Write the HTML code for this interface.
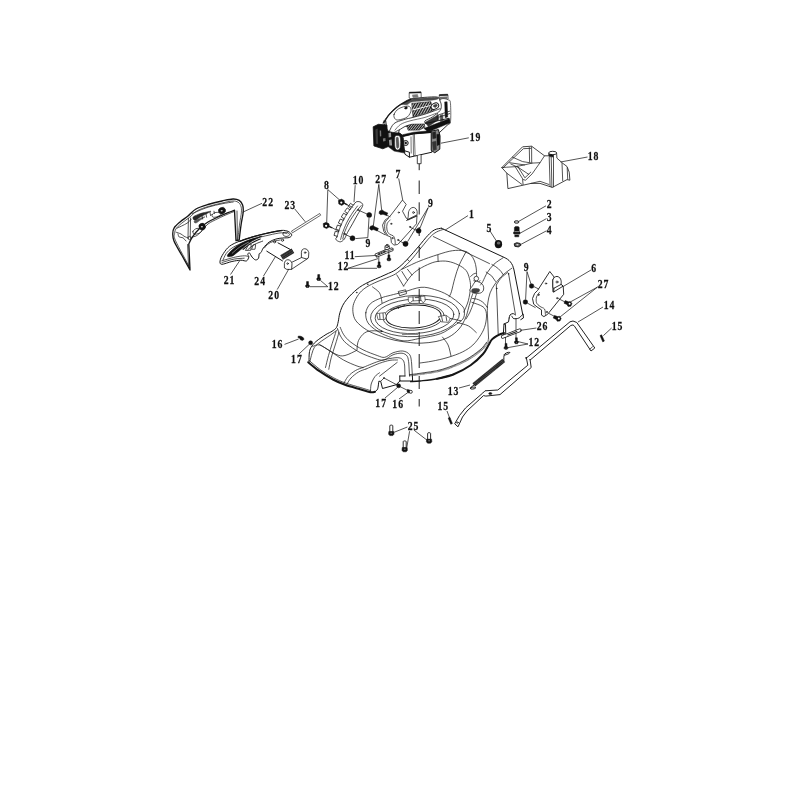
<!DOCTYPE html>
<html><head><meta charset="utf-8"><title>Parts diagram</title>
<style>
html,body{margin:0;padding:0;background:#fff;}
body{width:800px;height:800px;overflow:hidden;font-family:"Liberation Serif",serif;}
svg{display:block;filter:blur(0.4px);}
.l{fill:none;stroke:#161616;stroke-width:1;stroke-linecap:round;stroke-linejoin:round;}
.t{fill:none;stroke:#1c1c1c;stroke-width:0.75;stroke-linecap:round;stroke-linejoin:round;}
.k{fill:#111;stroke:#111;stroke-width:0.5;}
.w{fill:#fff;stroke:#161616;stroke-width:0.9;stroke-linejoin:round;}
.ld{fill:none;stroke:#1c1c1c;stroke-width:0.75;}
text{font-family:"Liberation Serif",serif;font-weight:bold;font-size:13px;fill:#111;stroke:#111;stroke-width:.25px;}
</style></head><body>
<svg width="800" height="800" viewBox="0 0 800 800">
<rect width="800" height="800" fill="#fff"/>
<!-- 10_deck.svg -->
<g id="deck">
<path class="l" d="M309 361C309.1 359.7 309 355.2 309.3 353C309.6 350.8 309.9 349.4 311 347.5C312.1 345.6 313.5 343.7 316 341.5C318.5 339.3 323.3 336.2 326 334.5C328.7 332.8 330.2 332.5 332 331.3C333.8 330.1 335.5 329 336.5 327.4C337.5 325.8 337.6 324.2 338.2 321.8C338.8 319.4 338.9 316 339.9 312.8C340.9 309.6 342 306.2 344.4 302.6C346.8 299 350.9 294.6 354.5 291.4C358.1 288.2 360.7 286.2 365.8 283.5C370.9 280.8 379.9 277.3 385 274.9C390.1 272.5 392.6 271.9 396.3 269.3C400.1 266.7 403.8 263 407.5 259.1C411.2 255.3 415.4 250.1 418.8 246.2C422.2 242.3 425.2 238.2 427.8 235.5C430.4 232.8 432.2 231.1 434.5 229.9C436.8 228.7 440.2 228.5 441.3 228.2"/>
<path class="l" d="M441.3 228.2L504.1 257.4C509 259.5 512.6 263 514 270L522.7 314.3"/>
<path class="l" d="M443.5 229.3C442.3 229.8 438.8 230.7 436.5 232C434.2 233.3 432.6 234.5 430 237.2C427.4 239.8 424.4 243.9 421 247.9C417.6 251.9 413.7 257.3 409.8 261.4C405.9 265.5 400.8 270 397.4 272.6C394 275.2 392.8 275.3 389.4 276.8C386 278.3 380.8 280.1 377 281.8C373.2 283.5 369.7 285.1 366.9 286.9C364.1 288.7 362.2 290.1 360.1 292.5C358 294.9 355.7 298.7 354.5 301.5C353.3 304.3 352.8 306.6 352.8 309.4C352.8 312.2 353.3 315.8 354.5 318.4C355.7 321 357.7 323 360.1 325.1C362.5 327.2 365.5 329.4 369.1 331.3C372.7 333.2 377.2 334.9 381.5 336.4C385.8 337.9 390.1 339.3 395 340.3C399.9 341.3 406.3 342.1 410.8 342.6C415.3 343.1 417.8 343.3 422 343.1C426.2 342.9 431.5 342.5 436 341.5C440.5 340.5 445.2 339.1 449 337C452.8 334.9 456.2 332.2 459 329C461.8 325.8 463.9 321.5 465.5 318C467.1 314.5 467.6 311.2 468.5 308C469.4 304.8 470.3 301.4 471 299C471.7 296.6 472.5 294.5 472.8 293.6" style="stroke-width:.75"/>
<path class="t" d="M433.4 236.6L489.5 263.6"/>
<path class="t" d="M401.9 269.3C404.7 268 412.8 263.8 418.8 261.4C424.8 258.9 432.3 256.4 437.9 254.6C443.5 252.8 448.2 251.3 452.5 250.7C456.8 250.1 460.8 250.2 463.8 250.9C466.8 251.6 468.7 252.9 470.5 254.6C472.3 256.3 473.6 258.8 474.5 261C475.4 263.2 475.8 265.6 476.2 268.1C476.6 270.6 476.5 274.7 476.6 276"/>
<path class="t" d="M403.6 286.1C404.8 284.4 408.4 278.8 410.9 276C413.4 273.2 415.6 271.4 418.8 269.3C422 267.2 426.8 264.9 430 263.6C433.2 262.3 434.9 261.8 437.9 261.4C440.9 261 444.6 260.8 448 261.4C451.4 262 455.1 263.3 458.1 264.8C461.1 266.3 464.1 268.1 466 270.4C467.9 272.6 468.6 275.5 469.4 278.3C470.1 281.1 470.7 283.6 470.5 287.3C470.3 291.1 469.4 296.7 468.3 300.8C467.2 304.9 464.6 310.1 463.8 312"/>
<path class="t" d="M396.8 274.9L403.6 286.1M401.9 271.5L407.5 280.5M407.5 269.3L412 274.9M437.9 255.2L438.1 261.4M418.4 246.8L420.6 248.4M407.3 259.4L409.4 261.2"/>
<path class="t" d="M398.6 291.4L405.6 289.8L406.6 293.6L400 295.6Z"/>
<path class="t" d="M466 251.8C464.9 254 461.2 260.4 459.3 264.8C457.4 269.2 456.1 273.8 454.8 278.3C453.5 282.8 452.3 288.7 451.4 291.8C450.4 294.9 449.5 296 449.1 296.8"/>
<path class="t" d="M372.5 286.9C373.6 287.8 377.8 290.4 379.3 292.5C380.8 294.6 381.1 297.6 381.5 299.3C381.9 301.1 381.9 302.4 382 303"/>
<circle class="k" cx="356.8" cy="292.6" r=".5"/>
<circle class="k" cx="367.8" cy="284.2" r=".5"/>
<circle class="k" cx="381.5" cy="331.3" r=".5"/>
<ellipse class="l" cx="413.5" cy="316.5" rx="27.6" ry="11.5" transform="rotate(-3 413.5 316.5)"/>
<ellipse class="t" cx="414.5" cy="316.3" rx="39.4" ry="17.2" transform="rotate(-3 414.5 316.3)"/>
<ellipse class="t" cx="415" cy="316" rx="44.5" ry="20.6" transform="rotate(-3 415 316)"/>
<path class="t" d="M365.8 312.8C366.2 309.6 367.8 306.3 370.3 303.8C372.8 301.3 377.6 299.4 381 298C384.4 296.6 386.7 296.3 390.5 295.3C394.3 294.3 398.9 293.2 404 291.9C409.1 290.6 415.9 287.7 421 287.3C426.1 286.9 430 288.2 434.5 289.5C439 290.8 443.5 292.5 448 295.1C452.5 297.7 458.8 302.6 461.5 305.3C464.2 308 464.2 309 464.4 311.3C464.6 313.6 464.6 316.7 462.8 319.1C461 321.5 457.6 323.4 453.8 325.9C450.1 328.3 445.9 331.7 440.3 333.8C434.7 335.9 426.1 337.1 420 338.3C413.9 339.5 409.3 341.2 404 340.9C398.7 340.6 392.8 338.1 388.3 336.4C383.8 334.7 380.4 333.1 377 330.8C373.6 328.6 369.9 325.9 368 322.9C366.1 319.9 365.4 316 365.8 312.8Z"/>
<ellipse class="t" cx="413.6" cy="316.8" rx="30.5" ry="13.4" transform="rotate(-3 413.6 316.8)"/>
<path class="w" d="M408.2 297.2L424.8 296.2L425.2 301L423 302.8L421.4 300.4L412 301L410.2 303.2L408.4 301.4Z" style="stroke-width:.6"/>
<path class="t" d="M413 297L413.2 300.6M420.6 296.6L420.8 300.2M415.4 297.6h3.2"/>
<path class="w" d="M376.6 313.6L385.2 312.6L386.4 316L385 319.4L378 319.6Z" style="stroke-width:.6"/>
<path class="t" d="M379.6 314L380 319M383 313.4l.4 5"/>
<path class="w" d="M438.4 316.6L446 315.2L450.2 318.4L448.4 322.4L441 321.8Z" style="stroke-width:.6"/>
<path class="t" d="M441.6 316.6l1 4.6M446 316l.8 5M450.2 318.4L461 320.8"/>
<path class="t" d="M390.6 309.6L404.6 305.6M398 306.4l.6 2.2"/>
<path class="" d="M402 334.2L418 334.4" stroke="#888" stroke-width="1.4" fill="none"/>
<circle class="w" cx="476.3" cy="278.6" r="2.3" style="stroke-width:.75"/>
<path class="w" d="M475.6 281.5C476.9 281 478.7 281.8 480 282.5C481.3 283.2 482.7 284.4 483.2 285.6C483.8 286.9 483.9 288.8 483.5 290C483.1 291.2 482.1 292.3 480.8 292.9C479.4 293.4 476.8 293.5 475.1 293.2C473.5 293 471.6 292 470.8 291.4C469.9 290.8 469.7 290.4 470 289.5C470.3 288.6 471.6 287.1 472.5 285.8C473.4 284.4 474.4 282 475.6 281.5Z" style="stroke-width:.75"/>
<path class="k" d="M471.9 289.5C472.3 288.9 473.8 288.6 475 288.5C476.2 288.4 478.4 288.6 479.1 289.1C479.8 289.6 479.8 290.8 479.2 291.4C478.7 292 476.8 292.8 475.6 292.9C474.4 293 472.8 292.4 472.2 291.9C471.6 291.3 471.4 290.1 471.9 289.5Z" style="opacity:.8"/>
<path class="t" d="M475.6 281.5L473.8 280.8M478.8 281.9L480 280.5"/>
<path class="t" d="M470.6 276.5C471.1 276.1 472.6 274.5 473.5 274C474.4 273.5 475.5 273.4 475.9 273.2"/>
<path class="t" d="M476.4 294C475.9 295.5 474.6 300 473.5 303C472.4 306 471.2 309.3 470 312C468.8 314.7 466.7 317.8 466 319"/>
<path class="t" d="M503 257.8C501.5 258.9 496.6 261.7 494 264.2C491.4 266.7 489.2 269.7 487.3 272.6C485.4 275.5 483.9 279.5 482.8 281.6C481.7 283.7 480.9 284.4 480.5 285"/>
<path class="t" d="M512 268.1C510.5 269.2 505.8 272.3 503 274.9C500.2 277.5 497.2 280.9 495.1 283.9C493 286.9 491.3 289.7 490.1 292.9C488.9 296.1 488.3 299.8 487.8 303C487.3 306.2 487.4 310.5 487.3 312L488.6 339"/>
<path class="t" d="M507.5 272.6C506.4 273.6 502.7 276.2 500.8 278.3C498.9 280.4 497.1 283.9 496.3 285L497 300L498.2 334"/>
<path class="t" d="M508.6 273.8L515.4 314.3"/>
<path class="t" d="M491.9 264.5Q499.5 268 503.1 274.5M486.2 272Q492.5 275 495.6 281.4M472.6 298.5C478 298.6 483.5 301 487.3 307.5"/>
<circle class="k" cx="496.8" cy="288.4" r=".5"/>
<circle class="k" cx="508.6" cy="273.8" r=".5"/>
<path class="t" d="M471.8 302.3C473.7 303.1 480.6 304.9 483 306.8C485.4 308.7 486 310.5 486.4 313.5C486.8 316.5 486.2 321.2 485.3 324.8C484.4 328.4 482.9 331.5 480.8 334.9C478.7 338.3 475.9 342.2 472.9 345C469.9 347.8 466.9 349.7 462.8 351.8C458.7 353.9 453.1 355.8 448 357.4C442.9 359 436.7 360.3 432 361.2C427.3 362.1 422 362.7 420 363"/>
<path class="t" d="M457.1 322.5C459 323.1 465.2 324.2 468.4 325.9C471.6 327.6 475 331.5 476.3 332.6"/>
<path class="t" d="M442.5 337.1C443.4 338.4 446.7 341.9 448.1 345C449.5 348.1 450.5 354.2 451 356"/>
<path class="" d="M409.5 375.6C411.2 375.4 414.5 375.2 420 374.3C425.5 373.4 435 372.5 442.5 370.3C450 368.1 458.6 364.6 465 361.3C471.4 358 477.1 353.7 480.8 350.6C484.6 347.5 486.2 344.7 487.5 342.8C488.8 340.9 488.4 339.6 488.6 339" stroke="#555" stroke-width="1.7" fill="none" stroke-dasharray=".7 .45"/>
<path class="t" d="M409.5 374.6C411.2 374.4 414.5 374.2 420 373.3C425.5 372.4 434.9 371.5 442.3 369.3C449.7 367.1 458.2 363.6 464.5 360.4C470.8 357.2 476.3 352.9 480 349.9C483.7 346.9 485.5 343.5 486.6 342.2"/>
<path class="l" d="M410.6 381.6C412.2 381.5 415.6 381.5 420 381C424.4 380.5 431.3 379.9 436.9 378.8C442.5 377.7 451 375.1 453.8 374.3" style="stroke-width:1.4"/>
<path class="l" d="M436.9 378.8C439.7 378.1 448.2 376.6 453.8 374.3C459.4 372.1 465.7 368.7 470.6 365.3C475.5 361.9 480 357.4 483 354C486 350.6 487.1 347.4 488.6 345C490.1 342.6 490.3 341.1 492 339.4C493.7 337.7 496.8 336 498.8 334.9C500.8 333.8 503.1 333.3 504 333" style="stroke-width:2"/>
<path class="t" d="M337.5 328.5C338 329.8 339 333.5 340.5 336C342 338.5 343.2 340.8 346.5 343.5C349.8 346.2 355.2 350 360 352.5C364.8 355 371 357.2 375 358.5C379 359.8 381 360.6 384 360C387 359.4 390 355.9 393 354.8C396 353.6 399.6 353 402 353.2C404.4 353.5 406.1 354.6 407.2 356.2C408.4 357.9 408.5 361.9 408.8 363L409.5 376"/>
<path class="t" d="M340.2 327.3C340.8 328.6 342.1 332.4 343.8 334.8C345.5 337.2 347.1 339.2 350.2 341.7C353.4 344.2 358.5 347.5 363 349.8C367.5 352.1 373.6 354.2 377.2 355.5C380.9 356.8 382.1 357.8 384.8 357.3C387.4 356.9 390 353.9 393 352.8C396 351.8 399.9 350.7 402.8 351C405.6 351.3 408.3 352.8 409.8 354.8C411.3 356.8 411.3 361.6 411.6 363L412.4 376"/>
<path class="t" d="M363 367.5C365.5 366.5 373.5 363 378 361.5C382.5 360 386.5 359.1 390 358.5C393.5 357.9 396.8 357.4 399 357.8C401.2 358.1 402.6 359.4 403.5 360.8C404.4 362.1 404.5 365.1 404.7 366L405 376"/>
<path class="t" d="M366 369C368.2 368.1 375.5 364.8 379.5 363.3C383.5 361.9 387 360.9 390 360.3C393 359.8 396.2 360.1 397.5 360"/>
<path class="l" d="M399.8 376L399.8 381L412.6 381L412.4 376M399.8 376L405 376"/>
<path class="t" d="M379.5 376.2L397.2 362.4M381 381L384 378"/>
<path class="l" d="M308.2 362.2C310.1 363.8 315.4 368.4 319.5 371.2C323.6 374.1 328.8 377.2 333 379.5C337.2 381.8 340.5 383.1 345 384.8C349.5 386.4 355.8 388 360 389.2C364.2 390.5 368 391.8 370.5 392.2C373 392.7 374.2 391.9 375 391.8" style="stroke-width:2"/>
<path class="t" d="M309.3 360.6C311.1 362.1 316.2 366.7 320.2 369.6C324.3 372.5 329.5 375.6 333.8 377.9C338 380.1 341.2 381.5 345.8 383.1C350.2 384.7 356.6 386.4 360.8 387.6C364.9 388.9 368.9 390.1 370.5 390.6"/>
<path class="l" d="M375 391.8C375.4 391.3 377.1 390.6 377.7 388.8C378.3 387.1 378.6 382.6 378.8 381.3L380.7 381.3L382.5 388.5L396 384.8L400.2 380.7"/>
<path class="t" d="M337.5 329.7C336.4 330.6 333.8 332.6 330.8 334.8C327.7 337 321.9 340.6 319.2 342.8C316.4 344.9 315.4 345.9 314.2 347.7C313.1 349.5 312.7 351.1 312 353.4C311.3 355.7 310.2 360.1 309.9 361.5"/>
<path class="t" d="M312.8 346.5C313.9 346.2 316.6 344.2 319.5 345C322.4 345.8 326 348.5 330 351C334 353.5 339 357.5 343.5 360C348 362.5 353.8 364.8 357 366C360.2 367.2 362 367.2 363 367.5"/>
<path class="t" d="M336 331.5C335.4 333.5 333.5 339.5 332.2 343.5C331 347.5 329.6 351.5 328.5 355.5C327.4 359.5 326 365.5 325.5 367.5"/>
<path class="t" d="M339 332.2C338.4 334.4 336.6 340.8 335.2 345C333.9 349.2 332.3 353.7 331.2 357.8C330.1 361.8 329.2 367.4 328.8 369.3"/>
<path class="t" d="M343.5 384C344.2 382.8 346 378.8 348 376.5C350 374.2 353 372 355.5 370.5C358 369 361.8 368 363 367.5"/>
<path class="t" d="M346.5 384.9C347.2 383.8 349 380.1 351 378C353 375.9 356 373.5 358.5 372C361 370.5 364.8 369.5 366 369"/>
<path class="t" d="M370.5 392.2C370.6 390.9 370.5 386.6 371.2 384C372 381.4 373.6 378.4 375 376.5C376.4 374.6 378.8 373.4 379.5 372.8"/>
<path class="t" d="M319.5 344.4C322.2 346 331.8 352.4 336 354.3C340.2 356.2 341.5 356.2 345 355.5C348.5 354.8 355 351.1 357 350.2"/>
<path class="t" d="M357 349.5C357.2 348 357.2 343.2 358.5 340.5C359.8 337.8 362.2 334.6 364.5 333C366.8 331.4 369 331 372 330.8C375 330.5 380.8 331.4 382.5 331.5"/>
<circle class="k" cx="384" cy="378" r=".5"/>
<path class="t" d="M384 378L397.5 385.2M400.2 386.7L408 390.6"/>
<path id="axis" d="M419.2 163.3V170.2M419.2 180.5V194M419.2 202.3V214.5M419.2 227V236M419.2 246.5V258M419.2 267.5V281M419.2 289V303M419.2 311V324M419.2 332V346M419.2 354V368M419.2 376V389M419.2 399V406.5" stroke="#1c1c1c" stroke-width="1" fill="none"/>
</g>

<!-- 20_engine.svg -->
<g id="engine">
<defs><pattern id="hat" width="1.55" height="4" patternUnits="userSpaceOnUse" patternTransform="rotate(-20)"><rect width="1.55" height="4" fill="#fff"/><rect width="1.0" height="4" fill="#111"/></pattern><pattern id="hat2" width="1.5" height="4" patternUnits="userSpaceOnUse" patternTransform="rotate(-30)"><rect width="1.5" height="4" fill="#eee"/><rect width=".95" height="4" fill="#111"/></pattern></defs>
<path class="w" d="M409.2 92.8L409.2 98L410.9 99.1L419.8 98.6L421.2 97.4L421.1 92.4Z" style="stroke-width:.65"/>
<path class="k" d="M409.4 92.2L420.9 91.8L420.9 92.8L409.4 93.1Z"/>
<path class="k" d="M412.3 94.9L417.5 94.4L418.2 97.1L413 97.6Z" style="opacity:.55"/>
<path class="w" d="M439.2 95.4L439.2 99.3L440.9 100.2L446.6 100.1L448.1 99.1L447.9 95Z" style="stroke-width:.65"/>
<path class="k" d="M439.4 94.6L447.7 94.2L447.7 95.2L439.4 95.6Z"/>
<path class="k" d="M440 97.1L447.1 96.7L447.1 98.8L440 99.1Z" style="opacity:.6"/>
<path class="w" d="M440 100.1C441.9 97.2 446.7 99.2 448.4 99.9C450.2 100.5 450.2 100.2 450.5 103.8C450.8 107.4 451 118.3 450.5 121.6C450 125 449.2 123.7 447.5 124C445.8 124.3 441.7 124.7 440 123.5C438.3 122.3 437.2 120.8 437.2 116.9C437.2 113 438.1 102.9 440 100.1Z" style="stroke-width:.65"/>
<path class="k" d="M444.7 101.9L447.1 101.8L447.7 116.9L445.2 117.7Z"/>
<path class="w" d="M399.8 127.2L429 122.8L449.2 118.2L449.8 122.8L439.1 132.9L432.4 135.7L403.1 135.7L398.6 132.9Z"/>
<path class="w" d="M383.8 122.8C383.1 120.2 385.6 119.3 386.6 117.9C387.5 116.4 387.7 116 389.4 114.1C391.1 112.3 394.4 108.8 396.9 106.8C399.4 104.8 402 103.2 404.4 101.9C406.7 100.6 407.7 99.7 410.9 98.9C414.2 98.2 419.7 97.8 424.1 97.4C428.5 97.1 434.7 96.5 437.4 97.1C440 97.7 439.3 99.6 440 101C440.7 102.4 441.3 103.6 441.3 105.2C441.3 106.8 441.5 108.6 440 110.6C438.5 112.5 435 115.2 432.5 116.9C430 118.7 426.4 119.6 425 120.9C423.6 122.1 426.9 123.7 424.1 124.4C421.2 125.2 412.3 124.4 408.1 125.4C403.9 126.3 401.7 128.8 398.8 130.1C395.8 131.3 392.8 134.1 390.3 132.9C387.8 131.7 384.4 125.2 383.8 122.8Z" style="stroke-width:.8"/>
<path class="k" d="M402 104C402.5 103.2 406.3 100.7 410 99.7C413.7 98.7 419.6 98.4 424.1 98C428.5 97.6 434.5 97.3 436.8 97.4C439.1 97.6 438.7 98.5 437.8 98.9C436.8 99.4 435.2 99.8 431.1 100.2C426.9 100.7 416.8 101.1 412.8 101.8C408.9 102.4 409.2 104 407.4 104.4C405.6 104.8 401.6 104.8 402 104Z" style="opacity:.75"/>
<path class="" d="M411.7 103.4L430.8 101.6L433.6 110.6L413 117.1Z" fill="url(#hat)" stroke="#111" stroke-width=".5"/>
<path class="" d="M412.3 109.4L433 104.4L433.2 105.3L412.5 110.6Z" fill="#fff"/>
<ellipse cx="434.9" cy="106.1" rx="4" ry="2.9" transform="rotate(-28 434.9 106.1)" fill="#fff" stroke="#111" stroke-width=".9"/>
<path class="k" d="M433 106.1C432.9 105.6 434.6 104.5 435.3 104.4C436 104.2 437.3 104.6 437.4 105.1C437.4 105.6 436.2 107.2 435.5 107.4C434.8 107.5 433 106.6 433 106.1Z" style="opacity:.8"/>
<path class="l" d="M394.1 114.3C394.7 112.6 396.4 110.1 398.8 108.7C401.1 107.3 406.1 105.8 408.1 106.1C410.2 106.3 411.2 108.4 411.1 110.2C411 112 409.4 115.3 407.4 116.9C405.3 118.6 400.8 119.6 398.8 119.9C396.7 120.2 395.8 119.8 395 118.8C394.2 117.9 393.4 116 394.1 114.3Z" style="stroke-width:.7"/>
<path class="k" d="M404.6 107.8C404.8 107.4 406.4 106.7 406.8 106.8C407.2 106.9 407.5 108.1 407.2 108.5C406.9 108.9 405.6 109.2 405.1 109.1C404.7 108.9 404.3 108.1 404.6 107.8Z"/>
<path class="l" d="M389.4 131.2C390.2 129.9 391.7 125.4 394.1 123.5C396.4 121.6 400.6 120.7 403.4 119.8C406.2 118.8 407.3 118.8 410.9 117.9C414.5 116.9 420.2 115.7 425 114.1C429.8 112.6 437.5 109.6 440 108.7" style="stroke-width:.8"/>
<path class="l" d="M395 130.1C395.9 129.1 398.1 126 400.6 124.4C403.1 122.9 405.9 122 410 120.9C414.1 119.7 420.6 118.7 425 117.4C429.4 116.1 434.4 113.9 436.2 113.2" style="stroke-width:.6"/>
<path class="l" d="M383.8 122.8C384.7 121.3 387.2 116.9 389.4 114.3C391.6 111.7 394.3 109.2 396.9 107.2C399.4 105.2 402.2 103.8 404.6 102.5C406.9 101.2 409.9 99.8 410.9 99.3" style="stroke-width:1.2"/>
<path class="" d="M406.7 125.8L411.9 124.2L424.1 123.9L425 127.2L419.4 130.1L408.1 130.2Z" fill="url(#hat2)" stroke="#111" stroke-width=".5"/>
<path class="k" d="M425 122.4L434 117.2L438.4 114.8L438.8 119.6L428.4 126.4Z" style="opacity:.85"/>
<path class="k" d="M424 128.4L427.5 127L448.8 118.8L450 122.8L434 129.6L428 131.8Z"/>
<path class="k" d="M440 115.2L442.8 114.4L443.2 120.8L440.4 121.6Z" style="opacity:.7"/>
<path class="t" d="M438.8 114.8L449.6 111.2M438.8 117.2L449.6 113.6"/>
<path class="k" d="M373.2 126.8L378.4 124.3L386.9 125L388.1 146.6L382.9 148.8L373.9 145.9Z" style="stroke-width:.8"/>
<path class="" d="M375.4 129.5L377.7 128.6L378.1 144.1L375.9 143.7Z" fill="#3a3a3a"/>
<path class="" d="M379.7 130.6L381.1 130.4L381.3 136.2L379.9 136.5M382.9 138.5L385.4 138.1L385.6 141L383.1 141.4" fill="#777"/>
<path class="l" d="M382.9 122.8L385.7 120.5L386.2 125.2"/>
<path class="k" d="M386.9 130.8L393 132.4L399.8 132.9L403.1 136L404.8 153.1L394.1 151.1L388.1 146.6Z"/>
<path class="" d="M388.5 132.9L391 132.4L391.2 136.9L388.7 137.4M388.9 140.1L391.6 139.6L392.1 145.5L389.4 145.5" fill="#999"/>
<path class="" d="M394.8 136.9C395.4 134.9 397.5 135.4 398.4 135.6C399.3 135.8 400.1 136.1 400.4 138.1C400.8 140 400.8 145.1 400.4 147.1C400 149 398.9 149.9 397.9 150C397 150 395.5 149.7 395 147.5C394.5 145.3 394.2 138.9 394.8 136.9Z" fill="#fff" stroke="#111" stroke-width=".6"/>
<path class="k" d="M396.1 138.5C396.4 136.8 397.7 136.5 398.2 137.8C398.6 139.1 399.1 144.7 398.9 146.4C398.6 148 397.3 149 396.8 147.7C396.4 146.4 395.9 140.2 396.1 138.5Z" style="opacity:.7"/>
<path class="w" d="M402.7 136.2L413.7 133.8L431.7 132.4L431.9 152.2L414.6 156.1L409.4 157.2L404.9 154.2Z" style="stroke-width:1"/>
<path class="k" d="M402.7 134.7L413.7 132.2L432.4 130.6L432.4 132.4L413.7 134L402.9 136.7Z"/>
<path class="l" d="M413.2 134.2L413.5 155.6L415.1 155.6L414.4 134" style="stroke-width:.6"/>
<path class="l" d="M404.9 150.9L409.4 152.2L409.4 157.2"/>
<circle cx="405.7" cy="143" r="2.5" fill="#fff" stroke="#111" stroke-width="1"/>
<circle class="k" cx="405.7" cy="143" r="1.1"/>
<path class="l" d="M403.4 138.1L403.6 149.8L404.9 150.4M411 136.9L411.2 153.1" style="stroke-width:.6"/>
<path class="w" d="M431.2 131.2L438.4 129.6L440 136L439.8 149.2L434.8 152.8L431.2 150.4Z" style="stroke-width:1;fill:#8a8a8a"/>
<path class="k" d="M432.4 132.4L435.6 131.6L436 138L432.8 138.8Z" style="opacity:.85"/>
<path class="k" d="M436.8 134.4L439.6 134L439.8 144.4L437.2 145.6Z"/>
<path class="k" d="M432.4 142L436 141.2L436.4 149.6L433.2 150.4Z" style="opacity:.7"/>
<path class="w" d="M417.3 155.8L417.3 163.7L421.1 163.7L421.1 154.9" style="stroke-width:.8"/>
</g>

<!-- 25_tank.svg -->
<g id="tank">
<path class="w" d="M501.8 167.6L522.6 146.8L531.6 146.2L544.5 155.8L548.8 155.8L548.8 153L556.6 153L556.9 158.1L562.5 163.1L567 166.5L569.2 172.1L569.9 180.2L567 179.6L552.4 187.4L549 186.3L540 183.4L531 183.4L507.9 188.6L506.8 173.2Z" style="stroke-width:.8"/>
<ellipse class="w" cx="552.7" cy="153" rx="4" ry="1.7"/>
<path class="k" d="M549 154.3L553.5 155L553.5 157.1L549.2 156.6Z"/>
<path class="t" d="M503.1 167.8L523.4 148.7L530.8 148.3M529.3 147.6L529.6 162M531.6 146.7L531.7 162.2M512.4 157.1L522.6 161.6L532.1 163.1L540 162.7M544.5 155.8L540 162.7L532.1 173.9L525.6 180.2L523.1 179.6L515.2 166.7M517.5 166.1L524.9 177.8L530.8 172.1M501.8 167.6L506.8 167.2L515.2 166.7L523.1 165.2L532.1 163.1M506.8 173.2L522 184.5M509.6 162.7L524.5 164.9M510.8 164L518.9 167.8M518.9 167.8L528.8 174.4M522.6 179.6L523.1 184.5M549.2 157.1L550.1 186.5M551.2 157.1L551.9 187.2M553.5 157.1L553.5 186.8M562 163.1L562.7 180.7M567.2 167.8L567.7 179.1M531 183.4L540 181.3L549 184.5"/>
</g>

<!-- 30_right.svg -->
<g id="right">
<path class="w" d="M594.8 348L576.8 322.5L573 321L570 321.8L525.8 358.5L526.2 357L527.8 365.2L497.8 390L485 390.8L482.8 393L465.5 408L459.5 415.5L454.7 423.8L458 426.8L462.5 417L467 411L483.5 395.6L485.8 396.1L500 394.6L531.2 367.5L530 359.2L530.2 360L570.8 325.5L573 324.9L574.5 326.2L591 351Z" style="stroke-width:.95"/>
<path class="t" d="M592.5 346.8L589.8 349.2"/>
<ellipse class="k" cx="490.3" cy="393.6" rx="1.6" ry="1"/>
<ellipse class="t" cx="457.4" cy="422.6" rx=".9" ry=".7"/>
<path d="M503.8 360.4L473.8 384.9" stroke="#1a1a1a" stroke-width="4.4" fill="none"/>
<path d="M503.8 360.4L473.8 384.9" stroke="#fff" stroke-opacity=".45" stroke-width="4.4" fill="none" stroke-dasharray="0.3 0.9"/>
<path class="l" d="M504 354.6C504.5 353.4 508.6 351.8 509.8 352.4C510.2 353.4 505.6 355.2 504.3 355C503.6 356.4 504 358.6 503.8 360.6"/>
<path class="l" d="M474 385C472.6 386 471 387.2 470 388.2C470.6 389.8 475 389 475.8 387.8C475.4 386.6 472.6 387 471.4 387.6"/>
<path class="w" d="M549.8 271.5L554.2 277.1L552.8 279.8L552.9 291.8L553.8 291.9L563.2 286.1L563.7 294.3L547.5 314.4L543.9 316.6L541.5 315.1L541.5 309.9L537 306.9L533.7 304.2L532.5 298.5L534.6 293.4L537.6 290.4Z"/>
<path class="w" d="M552.8 280.1C553 279.6 553.5 278.1 554.2 277.5C555 276.9 556 276.4 557 276.4C557.9 276.5 559.1 277.1 559.8 277.8C560.5 278.5 560.9 279.7 561.1 280.8C561.4 281.9 561.1 283.8 561.1 284.4L553.8 288.3L552.8 287.2Z"/>
<path class="l" d="M553.8 288.3L553.8 291.9"/>
<path class="l" d="M561.1 284.4L563.2 286.1"/>
<path class="t" d="M539.4 292.5C538.9 293.2 537 295.3 536.5 297C536.1 298.7 536 301.1 536.5 302.7C537.1 304.3 538.7 305.4 540 306.4C541.3 307.5 543.6 307.7 544.5 309C545.4 310.3 545.2 313.5 545.4 314.4"/>
<circle class="t" cx="557" cy="282" r="1.0"/>
<circle class="t" cx="546" cy="283.5" r="0.7"/>
<circle class="t" cx="557.2" cy="298.2" r="0.7"/>
<circle class="t" cx="538.5" cy="294.8" r="0.7"/>
<circle class="t" cx="546.8" cy="312" r="0.6"/>
<path class="t" d="M534.3 286.8L538.5 288.9M527.7 303.3L535.2 307.5M558.8 298.8L565.2 302.1M549 313.5L554.7 316.5"/>
<path class="l" d="M509.2 318C509.4 317.5 509.4 315.7 510 315C510.6 314.3 512.1 313.6 513 313.6C513.9 313.6 515 314.8 515.4 315"/>
<path class="l" d="M511.9 316.2C512.2 316.6 512.6 318.3 513.8 318.6C514.9 318.9 517.3 318.7 518.7 318.1C520.1 317.6 521.2 315.8 522 315.1C522.8 314.5 523 314.3 523.2 314.1L523.4 318L520.8 319.6"/>
<path class="l" d="M509.2 318L508.5 321.9L504 324L503.2 336"/>
<path class="l" d="M504 324L505.5 324.3L505.8 336"/>
<path class="t" d="M516 318.9L516 338.4M505.5 336L505.5 343.5"/>
<path d="M502.8 336.8L519.9 330.3" stroke="#1a1a1a" stroke-width="3.6" stroke-linecap="round" fill="none"/>
<path d="M502.8 336.8L519.9 330.3" stroke="#fff" stroke-width="2.1" stroke-linecap="round" fill="none"/>
<path d="M507.8 334.9L516.8 331.5" stroke="#222" stroke-width="1.1" stroke-linecap="round" fill="none"/>
</g>

<!-- 40_mid.svg -->
<g id="mid">
<path class="w" d="M353.8 204.5C354.2 204.1 355.2 202.3 356.2 201.9C357.3 201.4 359 201.5 360 201.9C361 202.2 362.1 203.2 362.5 204C362.9 204.8 362.9 205.5 362.2 206.9C361.6 208.3 360.4 209.7 358.8 212.5C357.1 215.3 354.4 220.4 352.5 223.8C350.6 227.1 348.9 230 347.5 232.5C346.1 235 345.5 237.5 344.4 239C343.2 240.5 341.9 241.5 340.6 241.8C339.4 242 337.6 241 336.8 240.5C335.9 240 335.9 238.8 335.8 238.5L337 237L337.2 236.3L334 235.4L335.3 231.2L338.4 232.1L338.8 231L339 230.3L335.9 229.1L337.5 225L340.6 226.2L341 225.1L341.3 224.4L338.4 223L340.3 219L343.3 220.4L343.8 219.4L344.1 218.7L341.3 217L343.6 213.2L346.4 214.9L347 213.9L347.4 213.3L344.7 211.4L347.2 207.9L349.9 209.8L350.5 208.9L350.9 208.3L348.2 206.4L350.5 203.3L353.2 205.3L353.8 204.5Z" style="stroke-width:.8"/>
<path class="t" d="M361.2 205.6C360.4 206.6 358.3 208.7 356.2 211.5C354.2 214.3 350.9 219 349 222.5C347.1 226 345.7 229.5 344.6 232.2C343.6 235 343.1 237.9 342.8 239"/>
<path class="t" d="M357.5 206C356.5 207.4 353.3 211.5 351.5 214.4C349.7 217.2 348 219.9 346.5 223.1C345 226.4 343.2 231 342.2 233.8C341.3 236.5 340.9 238.4 340.6 239.4"/>
<path class="t" d="M337 237C337.3 236 338.1 233 338.8 231C339.4 229 340.2 227.1 341 225.1C341.8 223.2 342.8 221.2 343.8 219.4C344.8 217.5 345.9 215.6 347 213.9C348.1 212.1 349.4 210.4 350.5 208.9C351.6 207.3 353.2 205.2 353.8 204.5"/>
<circle class="t" cx="358.1" cy="210" r=".7"/>
<circle class="t" cx="344.4" cy="233.8" r=".7"/>
<path class="t" d="M359.4 210.6L367.2 214.1M345.2 234.4L350.5 236.9M345.6 204.4L352.8 207.2M330.6 226.9L338.5 231.2"/>
<path class="w" d="M402.5 200L406.2 204.4L402.5 211.2L406.2 218.1L408.1 219.8L417 215.6L416.5 223.8L400 242.2L397.5 244.5L393.8 245.1L391.4 242.6L390.8 237.1L386.2 235.1L383.8 231.4L382.5 225.1L385 220.1L389.5 216.9Z" style="stroke-width:.75"/>
<path class="w" d="M408.5 211.9C408.8 211.4 409.5 209.5 410.2 208.8C411 208 412.3 207.4 413.2 207.4C414.2 207.4 415.4 208.1 416 208.8C416.6 209.4 416.9 210.5 417.1 211.5C417.3 212.5 417.1 214.2 417.1 214.8L407.5 219.5L408.2 216.9Z" style="stroke-width:.75"/>
<path class="t" d="M407.5 219.5L406.5 220.5L417 216"/>
<path class="t" d="M390.2 220C389.7 220.6 387.7 222.1 387.1 223.8C386.6 225.4 386.6 228.2 387 230C387.4 231.8 388.5 233.3 389.5 234.2C390.5 235.2 392.3 234.8 393.2 235.8C394.2 236.7 394.7 238.6 395 240C395.3 241.4 395.2 243.3 395.2 244"/>
<path class="t" d="M388.5 218.5C387.9 219.2 385.6 220.7 385 222.8C384.4 224.8 384.6 228.6 385 230.6C385.4 232.6 387.1 234.1 387.5 234.8"/>
<circle class="t" cx="413.5" cy="212.5" r="0.9"/>
<circle class="t" cx="398.8" cy="212.5" r="0.6"/>
<circle class="t" cx="391.2" cy="223.8" r="0.6"/>
<circle class="t" cx="410" cy="226.9" r="0.6"/>
<circle class="t" cx="398.1" cy="240" r="0.6"/>
<circle class="t" cx="392.5" cy="238.1" r="0.6"/>
<path class="t" d="M410.6 227.5L416.9 230.5M399 240.6L403.5 243.1M376.2 230L385 234.8M386.2 215L390 216.8"/>
<path class="w" d="M375 254.1L385 249.9L392.2 247.8L393.1 249L393.1 250.6L386.5 253.2L376.8 257.1L375.4 255.8Z" style="stroke-width:.8"/>
<path class="t" d="M375.4 255.8L376.4 255.6L386.2 251.5L393.1 249M376.4 255.6L376.8 257.1"/>
<path class="k" d="M377.8 253.8L385 250.8L385.6 251.8L378.5 254.8Z" style="opacity:.85"/>
<path class="" d="M380 253.5L381 253.1M382.2 252.6L383.2 252.2" stroke="#fff" stroke-width=".5" fill="none"/>
<path class="w" d="M385.1 249.8C385.1 249.2 384.9 247.4 385 246.6C385.1 245.8 385.5 245.2 386 244.9C386.5 244.5 387.2 244.4 387.8 244.5C388.3 244.6 388.9 245.1 389.1 245.8C389.4 246.4 389.3 248.1 389.4 248.6L387.5 249.5Z" style="stroke-width:.9"/>
<circle class="l" cx="387.1" cy="246.5" r="1.2" style="stroke-width:.8"/>
<path class="t" d="M378.8 256.6L378.8 261.9M388.8 251.4L388.8 255.1"/>
</g>

<!-- 50_left.svg -->
<g id="left">
<path class="w" d="M190 270C188.7 267.6 184.7 260.3 182 255.5C179.3 250.7 175.5 244.7 174 241C172.5 237.3 172.8 235.4 172.8 233.2C172.8 231 173 229.7 174.2 227.8C175.4 225.9 177.7 224 180 222C182.3 220 185.3 218.2 188 216C190.7 213.8 192.7 210.9 196 209C199.3 207.1 203.7 205.8 208 204.5C212.3 203.2 217.8 201.9 222 201C226.2 200.1 230.1 199.1 233 199C235.9 198.9 237.6 199.4 239.2 200.4C240.8 201.4 241.9 203.1 242.6 205C243.3 206.9 243.4 208.8 243.2 212C243 215.2 241.9 219.3 241.2 224C240.5 228.7 239.5 237.3 239.2 240L236 240.6L235.2 224L234.5 210.2C233.4 210.6 230.8 211.5 228 212.6C225.2 213.7 221.3 215.4 218 217C214.7 218.6 211 220.2 208 222C205 223.8 202.6 225.5 200 228C197.4 230.5 194.4 234.1 192.5 236.8C190.6 239.5 189.4 242.8 188.8 244L190 270Z" style="stroke-width:1.35"/>
<path class="l" d="M189.4 267C187.1 262.6 178.1 246.4 175.6 240.8C173.1 235.2 174.5 235.6 174.6 233.6C174.7 231.6 174.9 230.5 176 228.8C177.1 227.1 179 225.5 181.2 223.6C183.4 221.7 186.5 219.7 189.2 217.6C191.9 215.5 194 212.7 197.2 210.8C200.4 208.9 204.5 207.7 208.6 206.4C212.7 205.1 218 203.9 222 203C226 202.1 229.9 201.1 232.6 201C235.3 200.9 236.6 201.4 238 202.2C239.4 203 240.2 204.1 240.8 205.8C241.4 207.5 241.6 209.2 241.4 212.2C241.2 215.2 240.2 219.4 239.6 224C239 228.6 238.1 236.9 237.8 239.5" style="stroke-width:.7"/>
<path class="t" d="M192 213.6C194.7 212.5 203 208.8 208 207.2C213 205.6 217.8 204.7 222 203.8C226.2 202.9 231.3 202.3 233.2 202"/>
<path class="t" d="M237 211L237.4 239.6"/>
<path class="t" d="M187.6 244.5L188.6 267.5"/>
<path class="t" d="M176 232.2C176.8 232.5 179.7 233.3 181 234C182.3 234.7 182.8 235.5 184 236.2C185.2 236.9 187.8 237.9 188.5 238.2"/>
<path class="t" d="M177 228.2C178.7 227.4 184.6 224.7 187 223.2C189.4 221.7 190.5 219.9 191.2 219.2"/>
<path class="t" d="M188.4 218.4L188 238M190.6 218L190.2 237.2"/>
<path class="t" d="M178 234C178.2 234.5 178.4 236.4 179.2 237C180 237.6 181.9 237.1 183 237.8C184.1 238.5 185.5 240.5 186 241"/>
<path class="t" d="M192 237C192.7 236.8 194.5 236.8 196 236C197.5 235.2 199 234 201 232C203 230 205.2 226.2 208 224C210.8 221.8 214.7 220.3 218 218.6C221.3 216.9 225.3 215.2 228 214C230.7 212.8 233 212 234 211.6"/>
<path class="k" d="M193 217.2C193.5 216.2 196.2 215.2 198 214.4C199.8 213.6 201.8 213.1 204 212.6C206.2 212.1 210.7 211 211 211.2C211.3 211.4 207.8 213 206 214C204.2 215 201.9 216.2 200 217.2C198.1 218.2 196 220.2 194.8 220.2C193.6 220.2 192.5 218.2 193 217.2Z" style="opacity:.9"/>
<path class="k" d="M194.2 221.2C194.9 220.4 198.2 219.1 200 218.4C201.8 217.7 204.8 216.6 205 216.8C205.2 217 202.5 218.6 201 219.6C199.5 220.6 197.1 222.7 196 223C194.9 223.3 193.5 222 194.2 221.2Z" style="opacity:.7"/>
<ellipse class="k" cx="222" cy="210.6" rx="3.6" ry="3.2" transform="rotate(-25 222 210.6)"/>
<ellipse cx="221.7" cy="210.8" rx="1.1" ry=".8" fill="#ccc"/>
<ellipse class="k" cx="202.2" cy="226.6" rx="3.2" ry="3.4" transform="rotate(-25 202.2 226.6)"/>
<ellipse cx="201.9" cy="226.8" rx="1.1" ry=".8" fill="#ccc"/>
<path class="t" d="M212 214.6C212.5 213.8 214.4 212.6 216 212.4C217.6 212.2 221.2 212.9 221.5 213.6C221.8 214.3 219.4 215.8 218 216.4C216.6 217 214.2 217.5 213.2 217.2C212.2 216.9 211.5 215.4 212 214.6Z"/>
<path class="t" d="M193 231.2C193.5 230.2 195.5 228.6 197 228.4C198.5 228.2 201.4 229 201.8 229.8C202.2 230.6 200.5 232.5 199.2 233.2C197.9 233.9 195.2 234.5 194.2 234.2C193.2 233.9 192.5 232.2 193 231.2Z"/>
<circle class="t" cx="189.5" cy="238" r="1.6"/>
<path class="t" d="M202 215.4L202.6 219M206 213.8L206.6 217.2M210 212.4L210.6 215.6M214 211.2L214.4 213.6"/>
<path class="w" d="M220.1 260.8C220.3 259 221.8 255.9 223.4 253.5C225 251.1 226.9 248.2 229.6 246.2C232.3 244.1 235.8 242.7 239.8 241.1C243.7 239.5 248.4 238 253.2 236.6C258.1 235.2 264.3 233.7 269 232.7C273.7 231.7 278.2 230.6 281.4 230.4C284.6 230.2 286.4 230.7 288.1 231.4C289.9 232.2 291.5 233.8 291.7 234.8C291.9 235.8 290.8 237 289.2 237.5C287.7 238.1 284.8 237.7 282.5 238C280.2 238.2 278 238.4 275.8 239.1C273.5 239.8 271.1 240.8 269 242.2C266.9 243.7 264.7 246.2 263.4 247.9C262.1 249.6 261.8 251.4 261.1 252.4C260.4 253.4 259.5 253 259.1 253.9C258.7 254.9 259.2 257.2 258.6 258.2C258 259.2 256.6 260.1 255.5 259.9C254.4 259.7 253.2 258.3 252.1 257.1C251.1 255.9 250 253.2 249.3 252.8C248.6 252.4 247.9 253.9 247.8 254.6C247.8 255.3 249 256.1 248.8 257.1C248.5 258.2 247.8 260.4 246.5 260.9C245.2 261.4 243.3 260.2 240.9 260.2C238.4 260.3 235.1 260.8 231.9 261.5C228.7 262.2 223.7 264.4 221.8 264.3C219.8 264.2 219.8 262.6 220.1 260.8Z" style="stroke-width:1"/>
<path class="l" d="M239.8 241.3C242 240.6 248.4 238.3 253.2 236.8C258.1 235.4 264.3 233.9 269 232.9C273.7 231.9 279.3 231 281.4 230.7" style="stroke-width:1.3"/>
<path class="t" d="M222.9 260.2C223.4 259.1 224.8 255.5 226.2 253.5C227.8 251.5 229.4 249.8 231.9 248.1C234.3 246.4 237.3 245.1 240.9 243.6C244.4 242.1 248.6 240.5 253.2 239.1C257.9 237.7 264.3 236.1 269 235.1C273.7 234 278.4 233 281.4 232.8C284.4 232.6 286.1 233.5 287 233.7"/>
<path class="t" d="M221.8 260.8C224 260.2 231.5 257.9 235.2 257.1C239 256.3 242.3 255.8 244.5 255.8C246.7 255.7 247.7 256.5 248.3 256.6"/>
<path class="t" d="M222 262.5C224 261.9 230.4 259.8 234.1 259.1C237.8 258.4 242.6 258.4 244.2 258.2"/>
<path class="k" d="M227.2 256C227.2 254.9 229.9 252 231.9 250.1C233.9 248.2 236.4 246.2 239.2 244.5C242 242.8 244.9 241.4 248.8 240C252.6 238.6 261.7 235.8 262.2 235.9C262.8 236.1 255.1 239.3 252.1 241.1C249.2 242.9 246.9 244.9 244.5 246.8C242 248.6 239.6 250.6 237.5 252.2C235.4 253.7 233.6 255.7 231.9 256.3C230.2 256.9 227.2 257 227.2 256Z"/>
<path class="" d="M231.9 253.5C233.2 252.4 236.9 248.9 239.8 247C242.6 245.1 247.2 242.8 248.8 242" stroke="#fff" stroke-width=".45" fill="none"/>
<path class="l" d="M243.1 249.4C244.4 248.4 248.2 245.1 251 243.4C253.8 241.6 258.7 239.6 260.2 238.9" style="stroke-width:1.1"/>
<path class="l" d="M247.8 249.7C248.9 248.8 251.9 245.9 254.4 244.5C256.9 243.1 261.3 241.7 262.7 241.1" style="stroke-width:.8"/>
<path class="t" d="M245.6 250.1L248.8 244.3L251.2 244.1L250.8 249.9ZM251.7 249L253.2 244.9L255.7 244.5L255.1 248.8Z"/>
<path class="t" d="M264.5 247.9C265.1 247.2 266.4 245.1 267.9 244.1C269.4 243 271.4 242 273.5 241.3C275.6 240.7 279.1 240.2 280.2 240"/>
<path class="l" d="M283.2 232.8C283.7 232.3 285.9 232.1 287 232.3C288.1 232.6 289.7 233.9 289.7 234.6C289.7 235.3 288 236.2 287 236.4C286 236.6 284.3 236.1 283.6 235.5C283 234.9 282.6 233.3 283.2 232.8Z" style="stroke-width:.8"/>
<circle class="l" cx="274.6" cy="241.8" r="1.1" style="stroke-width:.8"/>
<circle class="l" cx="282.5" cy="240.2" r="1.1" style="stroke-width:.8"/>
<path class="l" d="M266.8 251.2L282.5 260.9M278 242.9L291.9 250.3"/>
<path d="M281.6 257.6L292.9 250.8" stroke="#1a1a1a" stroke-width="5.2" fill="none"/>
<path d="M281.6 257.6L292.9 250.8" stroke="#fff" stroke-opacity=".45" stroke-width="5.2" fill="none" stroke-dasharray="0.3 0.9"/>
<path class="w" d="M291.4 262.5L302.2 257.2L307.9 258.4L291.4 269.4Z" style="stroke-width:.8"/>
<path class="w" d="M301.4 257.5L301.4 252.3C301.5 251.9 301.6 250.4 302.2 249.8C302.7 249.2 303.8 248.7 304.6 248.7C305.5 248.7 306.7 249.2 307.4 249.8C308.1 250.5 308.5 252.1 308.8 252.6L308.5 257.8L306.3 258.9Z" style="stroke-width:.8"/>
<path class="w" d="M284.4 268L284.4 263.3C284.6 262.9 284.8 261.4 285.4 260.8C286 260.2 287 259.7 287.9 259.7C288.7 259.7 289.9 260.2 290.6 260.8C291.3 261.5 291.8 263.1 292 263.6L291.7 269.4L286.8 269.4Z" style="stroke-width:.8"/>
<circle class="t" cx="287.6" cy="263.6" r=".8"/>
<circle class="t" cx="305.1" cy="252.6" r=".8"/>
<path class="w" d="M292.5 232.8L320.7 215.2L319.7 213.5L291.5 231.1Z" style="stroke-width:.65"/>
</g>

<!-- 70_small.svg -->
<g id="nuts" class="k">
<circle cx="369.2" cy="215" r="2.5"/>
<circle cx="352.5" cy="238.2" r="2.5"/>
<circle cx="418.6" cy="230.8" r="2.5"/>
<circle cx="405.5" cy="243.8" r="2.6"/>
<circle cx="531.6" cy="286" r="2.3"/>
<circle cx="525.4" cy="302" r="2.3"/>
<circle cx="310.6" cy="342.8" r="2"/>
<circle cx="398.6" cy="385.8" r="2"/>
</g>
<g id="plug5">
<ellipse cx="498.4" cy="244.2" rx="3.7" ry="4.1" fill="#111"/>
<ellipse cx="498.6" cy="243" rx="1.8" ry="1.5" fill="#666"/>
</g>
<g id="bolts8">
<path class="k" d="M338.4 200.4l3-1.3 2.8 1.5 .4 3-2.8 1.8-3-1.4z"/>
<circle cx="341.3" cy="202.6" r="1.1" fill="#fff"/>
<path class="l" d="M344.6 203.4l2.4 1.1" style="stroke-width:1.2"/>
<path class="k" d="M323.2 223.6l3-1.3 2.8 1.5 .4 3-2.8 1.8-3-1.4z"/>
<circle cx="326.1" cy="225.8" r="1.1" fill="#fff"/>
<path class="l" d="M329.4 226.6l2.4 1.1" style="stroke-width:1.2"/>
</g>
<g id="screws27">
<path class="k" d="M379.6 211l2.6-1 2 1.4 3.6 1.6-1.2 2.6-3.6-1.4-2.4 .6-1.6-1.6z"/>
<path class="k" d="M370.2 226.4l2.6-1 2 1.4 3.6 1.6-1.2 2.6-3.6-1.4-2.4 .6-1.6-1.6z"/>
<path class="k" d="M565.2 300.6l3.4 1.2 1.8-.4 1.6 2.2-1.2 2.6-2.8 .2-1-1.8-3-1.4z"/>
<path class="k" d="M554.4 315.4l3.4 1.2 1.8-.4 1.6 2.2-1.2 2.6-2.8 .2-1-1.8-3-1.4z"/>
<circle cx="569.6" cy="303.8" r="1" fill="#fff"/>
<circle cx="558.8" cy="318.6" r="1" fill="#fff"/>
</g>
<g id="screws12" class="k">
<path d="M387.95 254.9h1.9v3l.9 .6v1.6l-.7 .7h-2.3l-.7-.7v-1.6l.9-.6z"/><circle cx="388.9" cy="259.6" r=".4" fill="#aaa" stroke="none"/>
<path d="M378.15 261.9h1.9v3l.9 .6v1.6l-.7 .7h-2.3l-.7-.7v-1.6l.9-.6z"/><circle cx="379.1" cy="266.6" r=".4" fill="#aaa" stroke="none"/>
<path d="M317.75 274.6h1.9v3l.9 .6v1.6l-.7 .7h-2.3l-.7-.7v-1.6l.9-.6z"/><circle cx="318.7" cy="279.3" r=".4" fill="#aaa" stroke="none"/>
<path d="M306.55 281.6h1.9v3l.9 .6v1.6l-.7 .7h-2.3l-.7-.7v-1.6l.9-.6z"/><circle cx="307.5" cy="286.3" r=".4" fill="#aaa" stroke="none"/>
<path d="M515.45 337.8h1.9v3l.9 .6v1.6l-.7 .7h-2.3l-.7-.7v-1.6l.9-.6z"/><circle cx="516.4" cy="342.5" r=".4" fill="#aaa" stroke="none"/>
<path d="M505.05 343.4h1.9v3l.9 .6v1.6l-.7 .7h-2.3l-.7-.7v-1.6l.9-.6z"/><circle cx="506" cy="348.1" r=".4" fill="#aaa" stroke="none"/>
</g>
<g id="screws16">
<path class="k" d="M298.4 336l2.6 .3 2.2 1.3 .9 1.7-1.7 1.1-2-.6-.7-1.5-1.8-.9z"/>
<path class="k" d="M407.4 389.4l2.4 .6 .6 2.2-1.4 1-2-1.4z"/>
<circle cx="410.8" cy="391.8" r="1.5" fill="#fff" stroke="#111" stroke-width=".8"/>
</g>
<g id="bolts25">
<path class="w" d="M389.8 425.8a1.5 .7 0 0 1 3 0v6.4h-3z" style="stroke-width:.9"/>
<path class="k" d="M388.8 431.6h5l.2 2.6-1.2 1.4h-3l-1.2-1.4z"/><path d="M390.4 433.2h1.8" stroke="#ccc" stroke-width=".6"/>
<path class="w" d="M403.2 441.6a1.5 .7 0 0 1 3 0v6.6h-3z" style="stroke-width:.9"/>
<path class="k" d="M402.2 447.6h5l.2 2.8-1.2 1.4h-3l-1.2-1.4z"/><path d="M403.8 449.2h1.8" stroke="#ccc" stroke-width=".6"/>
<path class="w" d="M427.6 433.4a1.5 .7 0 0 1 3 0v6.4h-3z" style="stroke-width:.9"/>
<path class="k" d="M426.6 439.2h5l.2 2.6-1.2 1.4h-3l-1.2-1.4z"/><path d="M428.2 440.8h1.8" stroke="#ccc" stroke-width=".6"/>
</g>
<g id="pins15" class="k">
<path d="M600 335.6l1.6-.8 2.8 6.2-1.6 .9z"/>
<path d="M448.2 418l1.6-.8 2.6 6.2-1.6 .9z"/>
</g>
<g id="parts234">
<ellipse cx="516.6" cy="222" rx="2.3" ry="1.3" fill="#bbb" stroke="#222" stroke-width=".9"/>
<path class="k" d="M514.4 227.6a2.4 1.2 0 0 1 4.8 0v4.4h.8v1.8l-1.2 .8v2.2h-4v-2.2l-1.2-.8v-1.8h.8z"/>
<path d="M514.6 231.6h4.4M514.2 234.4h5.4" stroke="#fff" stroke-width=".5" fill="none"/>
<path d="M514.2 243.8l2.6-1.1 3.4 .8 .6 1.9-2.5 1.5-3.5-.6z" fill="#555" stroke="#111" stroke-width=".9"/>
<ellipse cx="517.4" cy="244.7" rx="1.2" ry=".7" fill="#ddd"/>
</g>

<!-- 80_leaders.svg -->
<g id="leaders" class="ld">
<path d="M441 143.2L468.8 137.8"/>
<path d="M560.5 162L587.5 157"/>
<path d="M518.5 221.5L546 205.8"/>
<path d="M519.5 233.5L546.5 218.6"/>
<path d="M520.5 244.6L546.5 230.8"/>
<path d="M490 231L496.4 241"/>
<path d="M445 230.2L468 215.6"/>
<path d="M428.2 207.6L419.8 228.6M428.2 207.6L407.6 241.6"/>
<path d="M398.7 178.4L402.7 200"/>
<path d="M378.8 184.4L381.7 210.4M378.8 184.4L373.3 226"/>
<path d="M355.2 185.2L354 202.2"/>
<path d="M327.8 189.6L340.3 200.6M327.8 189.6L326.7 222.6"/>
<path d="M367.8 237.6L369 218M367.8 237.6L355.4 238.6"/>
<path d="M354.8 256.7L375 255.5"/>
<path d="M348 268.3L378 258.6M348 268.3L377 268.3"/>
<path d="M327.8 286.7L320.3 280.3M327.8 286.7L309.8 286.7"/>
<path d="M294.8 209L305.3 221.8"/>
<path d="M262 203.3L242.5 212.3"/>
<path d="M230.5 274.5L239.5 261"/>
<path d="M263.5 276L275.5 256.5"/>
<path d="M277.2 289.6L288.8 269"/>
<path d="M527 271.6L531 284M527 271.6L525.6 299.6"/>
<path d="M591 270L564 286"/>
<path d="M597.6 287L571 301.6M597.6 287L560 317"/>
<path d="M603 307L578 322"/>
<path d="M611.6 328L603.4 335.6"/>
<path d="M536.4 328L520 330.4"/>
<path d="M528 344L518 341.6M528 344L508 347.6"/>
<path d="M459 388L470 385"/>
<path d="M447 411L450 419"/>
<path d="M407.4 427L393.8 432.4M409.6 431.2L406.8 447.4M413.8 430L427.6 440.6"/>
<path d="M385 398L397.6 387.4"/>
<path d="M399 399L408 392.4"/>
<path d="M299 354L309.6 344"/>
<path d="M284.5 344.4L298.6 339"/>
</g>

<!-- 90_labels.svg -->
<g id="labels">
<text transform="translate(469.7 140.5) scale(0.75 1)" letter-spacing="1.3">19</text>
<text transform="translate(587.7 160.3) scale(0.75 1)" letter-spacing="1.3">18</text>
<text transform="translate(546.7 208.0) scale(0.75 1)" letter-spacing="1.3">2</text>
<text transform="translate(546.7 221.4) scale(0.75 1)" letter-spacing="1.3">3</text>
<text transform="translate(546.7 234.0) scale(0.75 1)" letter-spacing="1.3">4</text>
<text transform="translate(486.5 231.6) scale(0.75 1)" letter-spacing="1.3">5</text>
<text transform="translate(468.9 217.6) scale(0.75 1)" letter-spacing="1.3">1</text>
<text transform="translate(427.9 206.8) scale(0.75 1)" letter-spacing="1.3">9</text>
<text transform="translate(395.5 177.8) scale(0.75 1)" letter-spacing="1.3">7</text>
<text transform="translate(375.3 183.2) scale(0.75 1)" letter-spacing="1.3">27</text>
<text transform="translate(352.7 184.2) scale(0.75 1)" letter-spacing="1.3">10</text>
<text transform="translate(324.1 188.8) scale(0.75 1)" letter-spacing="1.3">8</text>
<text transform="translate(365.5 246.6) scale(0.75 1)" letter-spacing="1.3">9</text>
<text transform="translate(344.5 259.2) scale(0.75 1)" letter-spacing="1.3">11</text>
<text transform="translate(337.7 270.4) scale(0.75 1)" letter-spacing="1.3">12</text>
<text transform="translate(327.9 290.2) scale(0.75 1)" letter-spacing="1.3">12</text>
<text transform="translate(262.3 205.8) scale(0.75 1)" letter-spacing="1.3">22</text>
<text transform="translate(284.5 208.8) scale(0.75 1)" letter-spacing="1.3">23</text>
<text transform="translate(223.7 284.0) scale(0.75 1)" letter-spacing="1.3">21</text>
<text transform="translate(254.3 285.4) scale(0.75 1)" letter-spacing="1.3">24</text>
<text transform="translate(268.3 298.6) scale(0.75 1)" letter-spacing="1.3">20</text>
<text transform="translate(523.7 271.4) scale(0.75 1)" letter-spacing="1.3">9</text>
<text transform="translate(591.3 271.6) scale(0.75 1)" letter-spacing="1.3">6</text>
<text transform="translate(597.7 288.4) scale(0.75 1)" letter-spacing="1.3">27</text>
<text transform="translate(603.7 308.6) scale(0.75 1)" letter-spacing="1.3">14</text>
<text transform="translate(611.7 329.6) scale(0.75 1)" letter-spacing="1.3">15</text>
<text transform="translate(536.7 329.6) scale(0.75 1)" letter-spacing="1.3">26</text>
<text transform="translate(528.5 345.8) scale(0.75 1)" letter-spacing="1.3">12</text>
<text transform="translate(447.7 394.6) scale(0.75 1)" letter-spacing="1.3">13</text>
<text transform="translate(437.5 410.4) scale(0.75 1)" letter-spacing="1.3">15</text>
<text transform="translate(407.7 430.0) scale(0.75 1)" letter-spacing="1.3">25</text>
<text transform="translate(375.3 407.0) scale(0.75 1)" letter-spacing="1.3">17</text>
<text transform="translate(392.3 408.2) scale(0.75 1)" letter-spacing="1.3">16</text>
<text transform="translate(291.1 363.0) scale(0.75 1)" letter-spacing="1.3">17</text>
<text transform="translate(271.7 348.4) scale(0.75 1)" letter-spacing="1.3">16</text>
</g>

</svg>
</body></html>
